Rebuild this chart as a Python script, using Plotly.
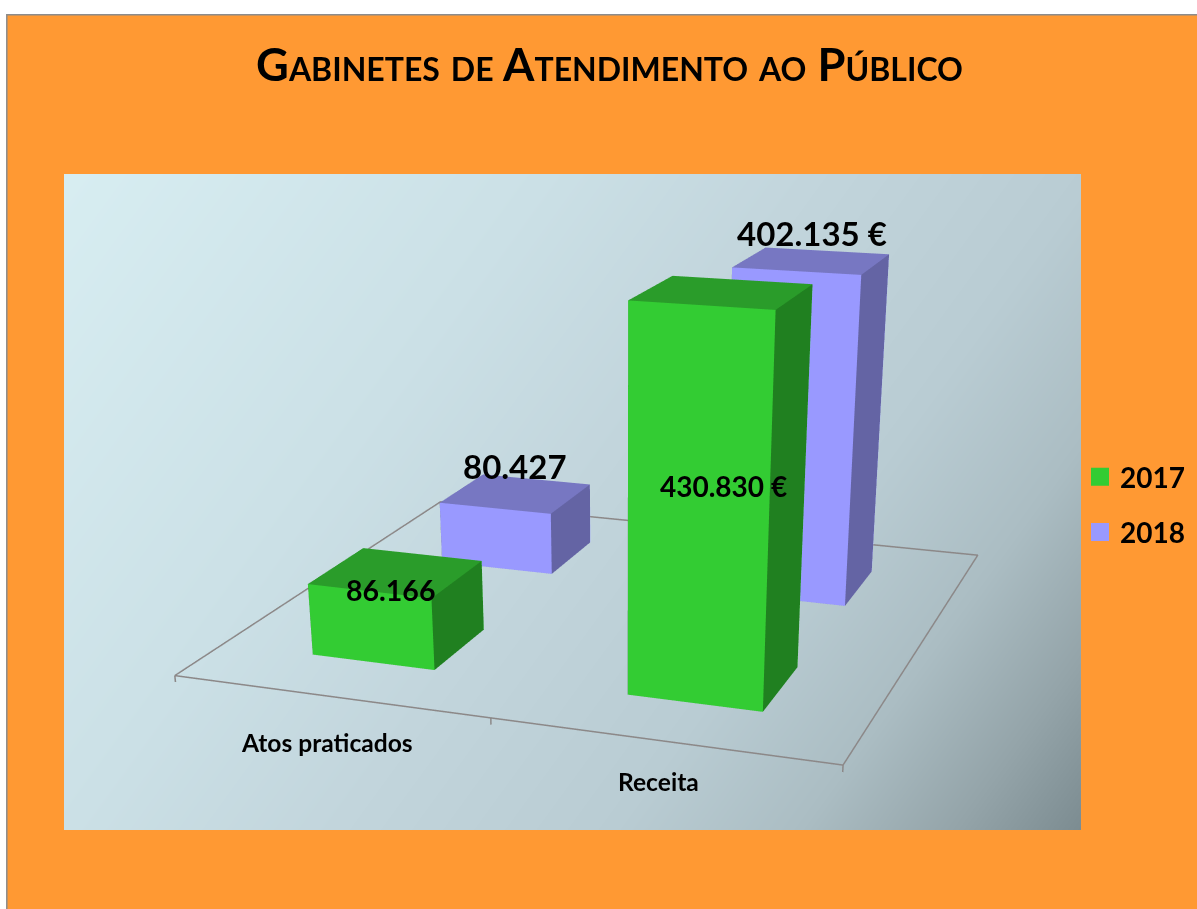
import plotly.graph_objects as go

categories = ["Atos praticados", "Receita"]
series_names = ["2017", "2018"]
values_2017 = [86166, 430830]
values_2018 = [80427, 402135]
labels_2017 = ["86.166", "430.830 €"]
labels_2018 = ["80.427", "402.135 €"]
title_text = "Gabinetes de Atendimento ao Público"

W, H = 1197, 909
# The page shows the top 909 px of a taller figure: the 3D scene's fixed field of view
# then gives the long-lens perspective of the original chart.
HF = 1700
ZLO, ZHI = -8000, 440000
BAR_HALF_X, BAR_HALF_Y = 0.1994, 0.1952
FACE = {0: ("#33CC33", "#2A9C2A", "#208020"), 1: ("#9999FF", "#7777C2", "#6464A4")}
LINE = "#8C8888"
LABEL_STYLE = {(0, 0): (-6.1, -17.7, 28.5), (1, 0): (2.0, -193.8, 28),
               (0, 1): (-0.8, 27.5, 33), (1, 1): (0.2, 27.7, 33)}
CAT_SHIFT = [(-1.6, -46.8), (-3.0, -40.2)]
TRI = [(0, 1, 5), (0, 5, 4), (1, 2, 6), (1, 6, 5), (4, 5, 6), (4, 6, 7),
       (0, 4, 7), (0, 7, 3), (3, 7, 6), (3, 6, 2), (0, 2, 1), (0, 3, 2)]


def yp(y):
    return 1 - y / HF


fig = go.Figure()
# panel background gradient
fig.add_trace(go.Heatmap(
    z=[[.32, 1], [0, .68]], x=[-.02, 1.02], y=[-.02, 1.02], showscale=False, zsmooth="best",
    hoverinfo="skip", zmin=0, zmax=1,
    colorscale=[[0, "#D8EEF2"], [.33, "#CBE0E6"], [.5, "#C2D5DC"], [.68, "#B9CCD3"],
                [.8, "#ABBDC3"], [.9, "#94A4A9"], [1, "#76868B"]]))

series_values = [values_2017, values_2018]
series_labels = [labels_2017, labels_2018]
annotations3d = []
for j, name in enumerate(series_names):
    fig.add_trace(go.Scatter(
        x=[None], y=[None], mode="markers", name=name, legendgroup=name,
        marker=dict(symbol="square", size=16, color=FACE[j][0], line=dict(width=2, color=FACE[j][0]))))
    for i, cat in enumerate(categories):
        x0, x1 = i + .5 - BAR_HALF_X, i + .5 + BAR_HALF_X
        y0, y1 = j + .5 - BAR_HALF_Y, j + .5 + BAR_HALF_Y
        top = series_values[j][i]
        cols = ([FACE[j][0]] * 2 + [FACE[j][2]] * 2 + [FACE[j][1]] * 2 +
                [FACE[j][2]] * 2 + [FACE[j][0]] * 2 + [FACE[j][2]] * 2)
        fig.add_trace(go.Mesh3d(
            x=[x0, x1, x1, x0, x0, x1, x1, x0],
            y=[y0, y0, y1, y1, y0, y0, y1, y1],
            z=[0, 0, 0, 0, top, top, top, top],
            i=[t[0] for t in TRI], j=[t[1] for t in TRI], k=[t[2] for t in TRI],
            facecolor=cols, flatshading=True, hoverinfo="skip", showscale=False,
            lighting=dict(ambient=1, diffuse=0, specular=0, roughness=1, fresnel=0)))
        sx, sy, fs = LABEL_STYLE[(i, j)]
        annotations3d.append(dict(
            x=i + .5, y=j + .5, z=top, xshift=sx, yshift=sy, text=series_labels[j][i], showarrow=False,
            font=dict(family="Lato", size=fs, color="black", weight="bold")))

# floor outline and category ticks
fig.add_trace(go.Scatter3d(x=[0, 2, 2, 0, 0], y=[0, 0, 2, 2, 0], z=[0] * 5, mode="lines",
                           line=dict(color=LINE, width=3), hoverinfo="skip", showlegend=False))
for t in range(len(categories) + 1):
    fig.add_trace(go.Scatter3d(x=[t, t], y=[0, 0], z=[0, ZLO], mode="lines",
                               line=dict(color=LINE, width=3), hoverinfo="skip", showlegend=False))
for i, cat in enumerate(categories):
    annotations3d.append(dict(
        x=i + .5, y=0, z=0, xshift=CAT_SHIFT[i][0], yshift=CAT_SHIFT[i][1], text=cat, showarrow=False,
        font=dict(family="Lato", size=24.6, color="black", weight="bold")))

fig.update_layout(
    width=W, height=HF, margin=dict(l=0, r=0, t=0, b=0),
    paper_bgcolor="white", plot_bgcolor="rgba(0,0,0,0)",
    xaxis=dict(domain=[64 / W, 1081 / W], range=[0, 1], visible=False, fixedrange=True),
    yaxis=dict(domain=[yp(830), yp(174)], range=[0, 1], visible=False, fixedrange=True),
    shapes=[dict(type="rect", xref="paper", yref="paper", x0=6.8 / W, x1=1.01, y0=-.01, y1=yp(14.8),
                 fillcolor="#FF9933", line=dict(color="#8C8C8C", width=1.5), layer="below")],
    title=dict(text=title_text, x=609.5 / W, xanchor="center", y=yp(65), yanchor="middle",
               font=dict(family="Lato", size=45.2, color="black", weight="bold", variant="small-caps")),
    legend=dict(x=1080 / W, y=yp(452), xanchor="left", yanchor="top", tracegroupgap=16,
                bgcolor="rgba(0,0,0,0)", font=dict(family="Lato", size=28, color="black", weight="bold")),
    scene=dict(
        domain=dict(x=[0, 1], y=[0, 1]), bgcolor="rgba(0,0,0,0)", aspectmode="manual",
        aspectratio=dict(x=1.046, y=1.0, z=0.6002),
        xaxis=dict(visible=False, range=[0, 2]),
        yaxis=dict(visible=False, range=[0, 2]),
        zaxis=dict(visible=False, range=[ZLO, ZHI]),
        camera=dict(eye=dict(x=1.0953, y=-3.0435, z=0.8282),
                    center=dict(x=0.0621, y=-0.2181, z=-0.6202),
                    up=dict(x=-0.1436, y=0.4094, z=0.9010)),
        annotations=annotations3d))

css = ("var s=document.documentElement.style,b=document.body.style;"
       "s.overflow='hidden';s.height='100%';b.margin='0';b.height='100%';b.overflow='hidden';")
fig.write_html("out.html", config=dict(displayModeBar=False), post_script=css)
